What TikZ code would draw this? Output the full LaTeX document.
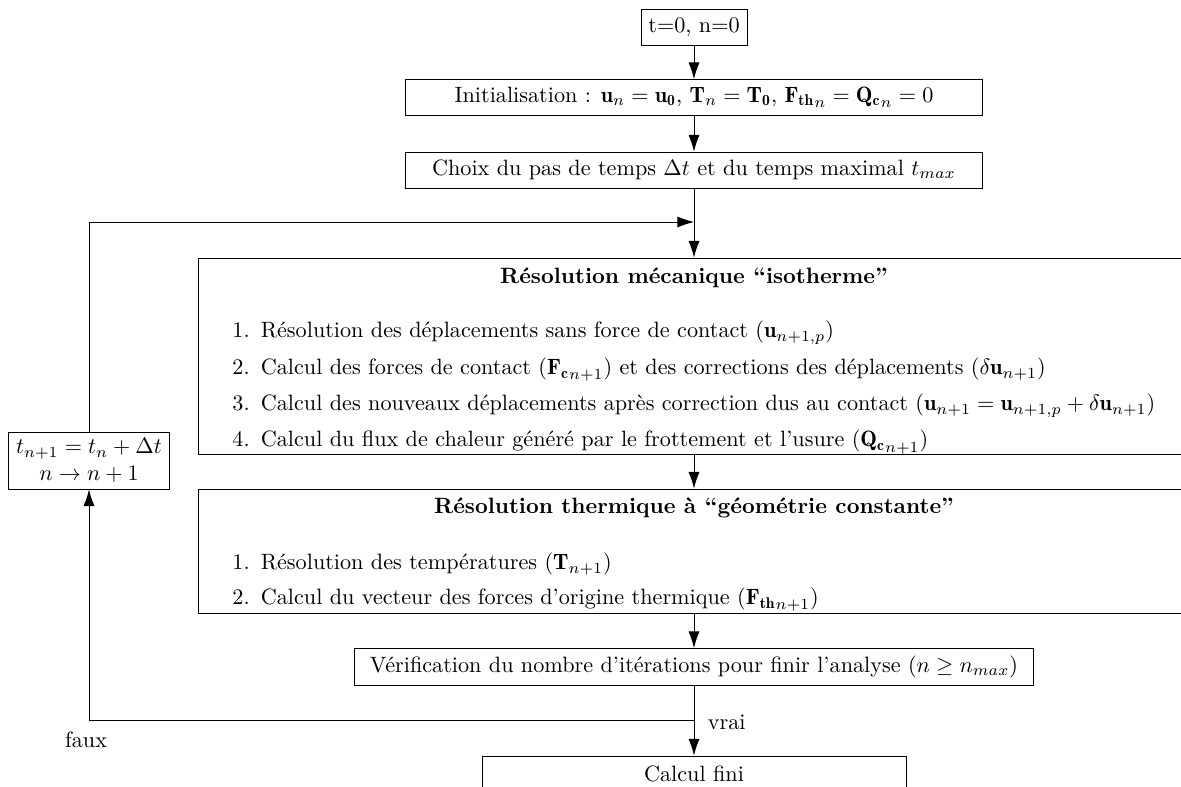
\documentclass[tikz,border=0pt]{standalone}
\usepackage{fontspec}
\usepackage{amsmath,amssymb}
\usetikzlibrary{arrows.meta,calc,positioning}
\newcommand{\pu}{0.4506pt}

\begin{document}
\begin{tikzpicture}[x=\pu,y=-\pu,
    box/.style={draw,minimum height=36*\pu,inner sep=3.33pt,align=center},
    arr/.style={-{Latex[length=7.5pt,width=5pt]}},
    item/.style={anchor=base west,inner sep=0pt}]
    \useasboundingbox (0,0) rectangle (1181,787);
    \node[box] (start) at (694,27) {t=0, n=0};
    \node[box,minimum width=577*\pu] (init) at (694,97.5)
      {Initialisation : $\mathbf{u}_n=\mathbf{u_0}$, $\mathbf{T}_n=\mathbf{T_0}$, ${\mathbf{F_{th}}}_n={\mathbf{Q_c}}_n=0$};
    \node[box,minimum width=577*\pu] (choix) at (694,170)
      {Choix du pas de temps $\Delta t$ et du temps maximal $t_{max}$};
    % resolution mecanique
    \node[box,minimum width=992*\pu,minimum height=196*\pu] (meca) at (694,356) {};
    \node[anchor=base,inner sep=0pt] (titremeca) at (694,284)
      {\textbf{Résolution mécanique “isotherme”}};
    \node[item] (m1) at (232,338) {1.\enskip Résolution des déplacements sans force de contact ($\mathbf{u}_{n+1,p}$)};
    \node[item] (m2) at (232,375) {2.\enskip Calcul des forces de contact (${\mathbf{F_c}}_{n+1}$) et des corrections des déplacements ($\delta\mathbf{u}_{n+1}$)};
    \node[item] (m3) at (232,411) {3.\enskip Calcul des nouveaux déplacements après correction dus au contact ($\mathbf{u}_{n+1}=\mathbf{u}_{n+1,p}+\delta\mathbf{u}_{n+1}$)};
    \node[item] (m4) at (232,447) {4.\enskip Calcul du flux de chaleur généré par le frottement et l’usure (${\mathbf{Q_c}}_{n+1}$)};
    % resolution thermique
    \node[box,minimum width=992*\pu,minimum height=124*\pu] (therm) at (694,551) {};
    \node[anchor=base,inner sep=0pt] (titretherm) at (694,514)
      {\textbf{Résolution thermique à “géométrie constante”}};
    \node[item] (t1) at (232,570) {1.\enskip Résolution des températures ($\mathbf{T}_{n+1}$)};
    \node[item] (t2) at (232,605) {2.\enskip Calcul du vecteur des forces d’origine thermique (${\mathbf{F_{th}}}_{n+1}$)};
    \node[box,minimum width=679*\pu] (verif) at (694,667)
      {Vérification du nombre d’itérations pour finir l’analyse ($n\geq n_{max}$)};
    \node[box,minimum width=424*\pu] (fini) at (694,774) {Calcul fini};
    \node[box,minimum width=161*\pu,minimum height=57*\pu,inner sep=1pt] (pas) at (89,460.5)
      {$t_{n+1}=t_n+\Delta t$\\ $n\rightarrow n+1$};
    \coordinate (jtop) at (694,222);
    \coordinate (jbas) at (694,720);
    \draw[arr] (start) -- (init);
    \draw[arr] (init) -- (choix);
    \draw[arr] (choix) -- (meca);
    \draw[arr] (pas) |- (jtop);
    \draw[arr] (meca) -- (therm);
    \draw[arr] (therm) -- (verif);
    \draw[arr] (verif) -- (fini);
    \draw[arr] (jbas) -| (pas);
    \node[anchor=west] (vrai) at (700,722) {vrai};
    \node (faux) at (86,740) {faux};
\end{tikzpicture}
\end{document}
